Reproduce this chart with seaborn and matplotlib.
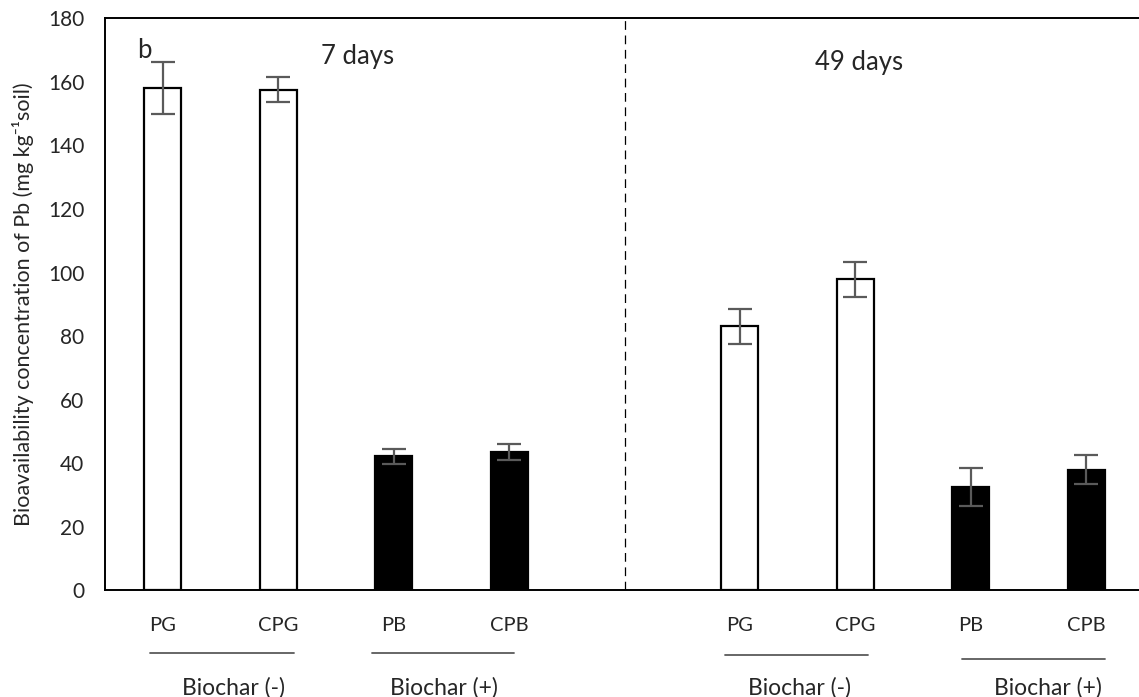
import numpy as np
import pandas as pd
import matplotlib
matplotlib.use("Agg")
import matplotlib.pyplot as plt
import matplotlib.transforms as mtransforms
import seaborn as sns


# DATA
slots = ["PG_7", "CPG_7", "PB_7", "CPB_7", "gap", "PG_49", "CPG_49", "PB_49", "CPB_49"]
tick_labels = ["PG", "CPG", "PB", "CPB", "", "PG", "CPG", "PB", "CPB"]

treatments = ["PG_7", "CPG_7", "PB_7", "CPB_7", "PG_49", "CPG_49", "PB_49", "CPB_49"]
pb_conc = [158.1, 157.6, 42.2, 43.5, 83.1, 97.9, 32.6, 38.0]
pb_err = [8.1, 3.9, 2.4, 2.6, 5.4, 5.5, 6.0, 4.6]
biochar = ["-", "-", "+", "+", "-", "-", "+", "+"]

group_names = ["Biochar (-)", "Biochar (+)", "Biochar (-)", "Biochar (+)"]
period_names = ["7 days", "49 days"]

df = pd.DataFrame({
    "Treatment": treatments,
    "Pb": pb_conc,
    "Err": pb_err,
    "Biochar": biochar,
})


# STYLE
sns.set_style("white")
plt.rcParams["font.family"] = ["Lato", "DejaVu Sans"]
plt.rcParams["axes.linewidth"] = 1.4

fig = plt.figure(figsize=(11.39, 6.97), dpi=100)
ax = fig.add_axes([0.0922, 0.1528, 0.9122, 0.8209])


# BARS
sns.barplot(
    data=df,
    x="Treatment",
    y="Pb",
    hue="Biochar",
    order=slots,
    palette={"-": "white", "+": "black"},
    dodge=False,
    width=0.32,
    edgecolor="black",
    linewidth=1.6,
    errorbar=None,
    legend=False,
    ax=ax,
)

# error bars (standard deviation)
xpos = [slots.index(t) for t in df["Treatment"]]
ax.errorbar(
    xpos, df["Pb"], yerr=df["Err"],
    fmt="none", ecolor="#5a5a5a", elinewidth=1.6, capsize=8.5, capthick=1.6,
    zorder=5,
)


# AXES
ax.set_xlim(-0.5, len(slots) - 0.5)
ax.set_ylim(0, 180)
ax.set_yticks(np.arange(0, 181, 20))
ax.tick_params(axis="y", direction="out", length=5, width=1.4, labelsize=15, pad=10)

ax.set_xticks(np.arange(-0.5, len(slots) - 0.5, 1.0))
ax.set_xticklabels([])
ax.tick_params(axis="x", which="major", direction="out", length=6, width=1.4)
ax.set_xticks(np.arange(len(slots)), minor=True)
ax.set_xticklabels(tick_labels, minor=True)
ax.tick_params(axis="x", which="minor", length=0, labelsize=14.5, pad=19)

ax.set_xlabel("")
ax.set_ylabel("Bioavailability concentration of Pb (mg kg\u207b\u00b9soil)", fontsize=15.5, labelpad=10)

for side in ["left", "bottom", "top"]:
    ax.spines[side].set_visible(True)
    ax.spines[side].set_color("black")
ax.spines["right"].set_visible(False)

# divider between sampling times
ax.axvline(slots.index("gap"), color="black", lw=0.9, ls=(0, (7, 4.5)), zorder=1)


# ANNOTATIONS
ax.text(-0.16, 170.0, "b", fontsize=18.5, ha="center", va="center")
ax.text(1.69, 168.0, period_names[0], fontsize=18.5, ha="center", va="center")
ax.text(6.03, 166.0, period_names[1], fontsize=18.5, ha="center", va="center")

trans = mtransforms.blended_transform_factory(ax.transData, ax.transAxes)
line_spans = [(-0.11, 1.14), (1.81, 3.04), (4.87, 6.11), (6.92, 8.16)]
line_y = [-0.109, -0.109, -0.113, -0.12]
label_x = [0.61, 2.44, 5.52, 7.67]
for (x0, x1), ly, lx, name in zip(line_spans, line_y, label_x, group_names):
    ax.plot([x0, x1], [ly, ly], color="#5a5a5a", lw=1.3, transform=trans, clip_on=False)
    ax.text(lx, -0.17, name, fontsize=16.5, ha="center", va="center", transform=trans)

fig.savefig("out.png", dpi=100)
plt.close(fig)
